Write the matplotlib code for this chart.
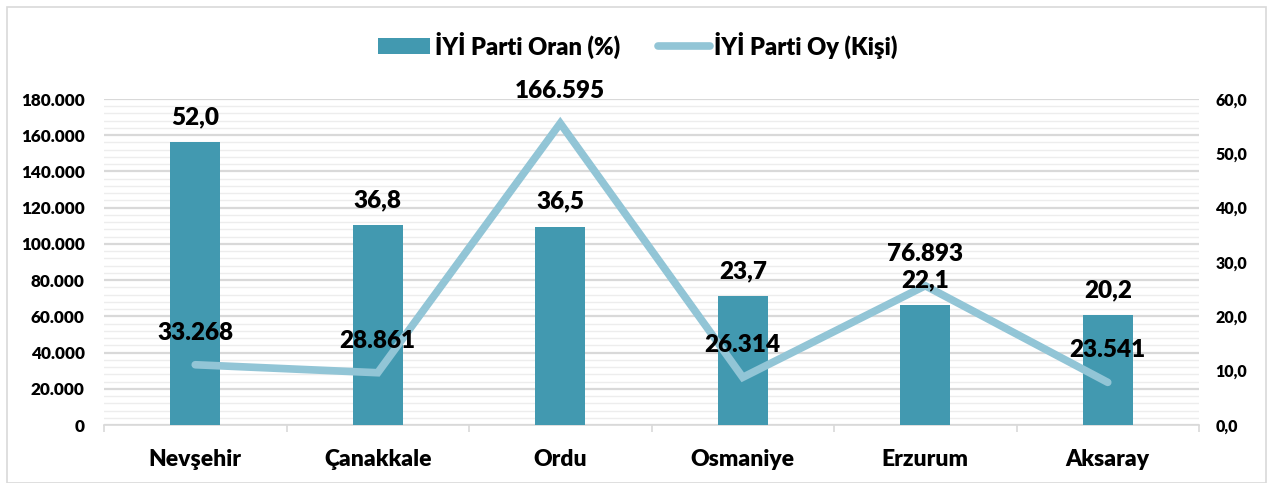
import numpy as np
import matplotlib.pyplot as plt
from matplotlib.patches import Rectangle
from matplotlib.ticker import FuncFormatter, MultipleLocator

# =========================
# Data
# =========================
iller = ["Nevşehir", "Çanakkale", "Ordu", "Osmaniye", "Erzurum", "Aksaray"]
oran = [52.0, 36.8, 36.5, 23.7, 22.1, 20.2]          # İYİ Parti Oran (%)
oy = [33268, 28861, 166595, 26314, 76893, 23541]      # İYİ Parti Oy (Kişi)

bar_color = "#4299B0"
line_color = "#92C5D6"
W = "heavy"

plt.rcParams["font.family"] = ["Lato", "DejaVu Sans"]
plt.rcParams["font.weight"] = W

fig = plt.figure(figsize=(12.76, 4.83), dpi=100)
fig.patches.append(Rectangle((7 / 1276, 0.0), 1259 / 1276, 1 - 7 / 483,
                             transform=fig.transFigure, fill=False,
                             edgecolor="#D9D9D9", linewidth=1.2))

ax = fig.add_axes([104 / 1276, 1 - 425 / 483, 1095 / 1276, 326 / 483])
x = np.arange(len(iller))

# grid + left axis (0 - 180.000)
ax.set_ylim(0, 180000)
ax.set_xlim(-0.5, len(iller) - 0.5)
ax.yaxis.set_major_locator(MultipleLocator(20000))
ax.yaxis.set_minor_locator(MultipleLocator(4000))
ax.grid(which="major", axis="y", color="#D9D9D9", linewidth=1.6)
ax.grid(which="minor", axis="y", color="#EDEDED", linewidth=1.0)
ax.set_axisbelow(True)
ax.yaxis.set_major_formatter(FuncFormatter(lambda v, p: f"{int(v):,}".replace(",", ".")))
ax.tick_params(axis="y", which="both", length=0, labelsize=12.3, pad=14)
ax.set_xticks(x)
ax.set_xticklabels(iller, fontsize=16.5, fontweight=W)
ax.set_xticks(np.arange(-0.5, len(iller)), minor=True)
ax.tick_params(axis="x", which="major", length=0, pad=17)
ax.tick_params(axis="x", which="minor", length=5, color="#D9D9D9", width=1.2)
for s in ["top", "right", "left"]:
    ax.spines[s].set_visible(False)
ax.spines["bottom"].set_color("#D9D9D9")
ax.spines["bottom"].set_linewidth(1.2)
for t in ax.get_yticklabels():
    t.set_fontweight(W)

# bars on right axis (0 - 60)
axb = ax.twinx()
axb.set_ylim(0, 60)
axb.yaxis.set_major_locator(MultipleLocator(10))
axb.yaxis.set_major_formatter(FuncFormatter(lambda v, p: f"{v:.1f}".replace(".", ",")))
axb.tick_params(axis="y", length=0, labelsize=11.5, pad=12)
for s in axb.spines.values():
    s.set_visible(False)
for t in axb.get_yticklabels():
    t.set_fontweight(W)
bars = axb.bar(x, oran, width=0.275, color=bar_color, label="İYİ Parti Oran (%)")

# line on left scale, drawn on top
axl = ax.twinx()
axl.set_ylim(0, 180000)
axl.set_yticks([])
for s in axl.spines.values():
    s.set_visible(False)
line, = axl.plot(x, oy, color=line_color, linewidth=5.5, solid_capstyle="round",
                 solid_joinstyle="miter", label="İYİ Parti Oy (Kişi)")

# labels
axt = ax.twinx()
axt.set_ylim(0, 60)
axt.set_yticks([])
for s in axt.spines.values():
    s.set_visible(False)
for xi, v in zip(x, oran):
    axt.annotate(f"{v:.1f}".replace(".", ","), (xi, v), xytext=(0, 18),
                 textcoords="offset points", ha="center", va="center",
                 fontsize=17.5, fontweight=W)
for xi, v in zip(x, oy):
    axt.annotate(f"{v:,}".replace(",", "."), (xi, v / 3000), xytext=(0, 23),
                 textcoords="offset points", ha="center", va="center",
                 fontsize=17.5, fontweight=W)

fig.legend(handles=[bars, line], loc="center", bbox_to_anchor=(0.5, 1 - 45 / 483),
           ncol=2, frameon=False, handlelength=2.2, columnspacing=1.6,
           handletextpad=0.2, prop={"weight": W, "size": 17})

fig.savefig("out.png", dpi=100)
